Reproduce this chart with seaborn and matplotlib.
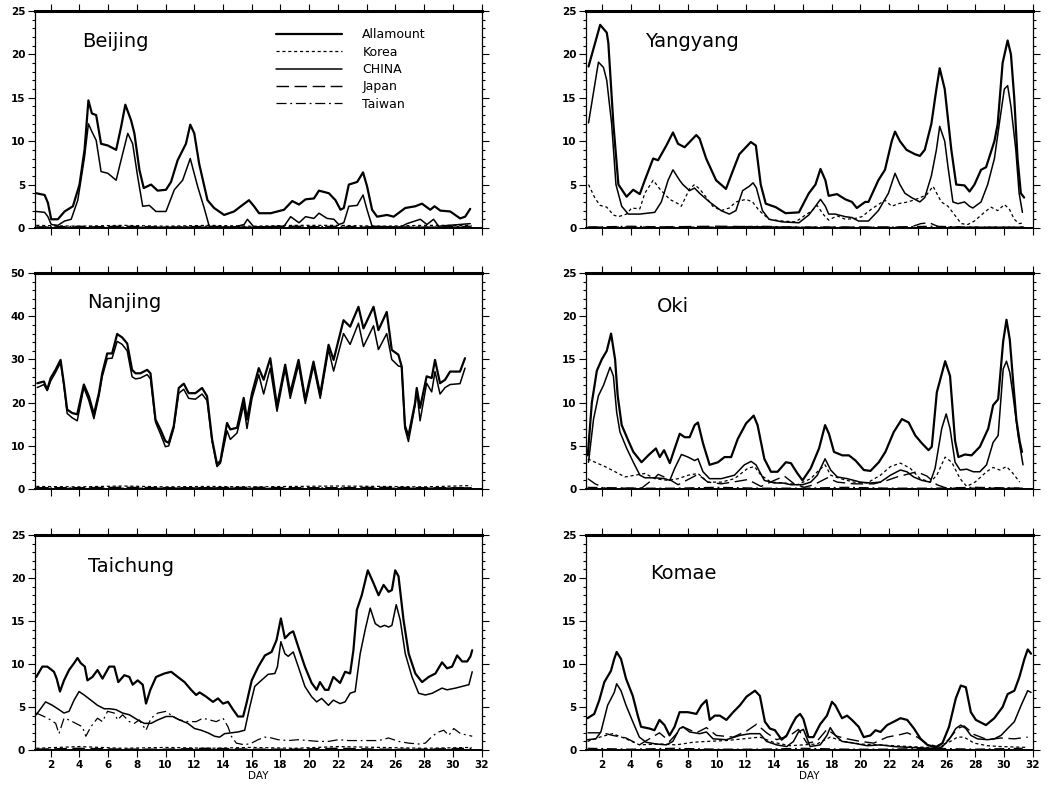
import numpy as np
import pandas as pd
import seaborn as sns
import matplotlib.pyplot as plt
from matplotlib.ticker import MultipleLocator

# ---------------- data (day, value) ----------------
flat_days = [1.0, 4.0, 7.0, 10.0, 13.0, 16.0, 19.0, 22.0, 25.0, 28.0, 31.3]

# Beijing
beijing_all_x = [1.0, 1.58, 1.81, 2.04, 2.5, 2.97, 3.55, 4.01, 4.36, 4.63, 4.87, 5.17, 5.51, 5.98, 6.56,
                 6.9, 7.2, 7.6, 7.83, 8.18, 8.48, 8.99, 9.45, 10.03, 10.38, 10.84, 11.42, 11.72, 12.0,
                 12.34, 12.92, 13.38, 14.08, 14.77, 15.24, 15.81, 16.16, 16.51, 17.32, 18.25, 18.82,
                 19.29, 19.75, 20.33, 20.68, 21.37, 21.83, 22.18, 22.41, 22.76, 23.34, 23.75, 24.03,
                 24.38, 24.73, 25.42, 25.88, 26.69, 27.39, 27.85, 28.43, 28.73, 29.13, 29.82, 30.51,
                 30.86, 31.21]
beijing_all_y = [4.0, 3.8, 2.9, 1.0, 1.0, 1.9, 2.5, 5.0, 9.0, 14.7, 13.2, 13.0, 9.7, 9.5, 9.0, 11.6,
                 14.2, 12.4, 10.9, 6.7, 4.6, 5.0, 4.3, 4.4, 5.3, 7.8, 9.7, 11.9, 10.9, 7.4, 3.2, 2.3,
                 1.5, 1.9, 2.5, 3.2, 2.5, 1.7, 1.7, 2.1, 3.1, 2.7, 3.3, 3.4, 4.3, 4.0, 3.2, 2.1, 2.3,
                 5.0, 5.3, 6.4, 4.8, 2.1, 1.3, 1.5, 1.3, 2.3, 2.5, 2.8, 2.1, 2.5, 2.0, 1.9, 1.1, 1.3, 2.2]
beijing_china_x = [1.0, 1.58, 1.81, 2.04, 2.5, 2.97, 3.43, 3.89, 4.36, 4.63, 4.87, 5.17, 5.51, 5.98,
                   6.56, 6.9, 7.37, 7.71, 8.06, 8.41, 8.87, 9.33, 10.03, 10.61, 11.19, 11.72, 12.23,
                   12.69, 13.04, 13.38, 14.77, 15.47, 15.7, 16.16, 18.25, 18.71, 19.29, 19.75, 20.33,
                   20.68, 21.25, 21.72, 22.06, 22.41, 22.76, 23.34, 23.75, 24.03, 24.38, 26.35, 26.81,
                   27.74, 28.2, 28.66, 29.01, 31.21]
beijing_china_y = [1.9, 1.8, 1.3, 0.4, 0.3, 0.8, 1.0, 3.2, 8.2, 12.0, 11.1, 10.1, 6.5, 6.3, 5.5, 7.8,
                   10.9, 9.7, 5.9, 2.5, 2.6, 1.9, 1.9, 4.4, 5.5, 8.0, 4.8, 2.3, 0.2, 0.1, 0.1, 0.4, 1.0,
                   0.1, 0.2, 1.3, 0.6, 1.3, 1.1, 1.7, 1.1, 1.0, 0.4, 0.6, 2.5, 2.6, 3.8, 2.1, 0.2, 0.1,
                   0.5, 1.0, 0.4, 1.0, 0.2, 0.5]
beijing_korea = [0.3, 0.2, 0.3, 0.2, 0.3, 0.2, 0.3, 0.3, 0.2, 0.3, 0.3]
beijing_japan = [0.1, 0.1, 0.2, 0.1, 0.1, 0.1, 0.2, 0.1, 0.1, 0.1, 0.1]
beijing_taiwan = [0.1, 0.2, 0.1, 0.1, 0.2, 0.1, 0.1, 0.2, 0.1, 0.1, 0.2]

# Yangyang
yangyang_all_x = [1.07, 1.88, 2.34, 2.45, 2.8, 3.15, 3.72, 4.18, 4.64, 4.99, 5.57, 5.91, 6.49, 6.95,
                  7.3, 7.76, 8.57, 8.8, 9.26, 9.95, 10.64, 11.1, 11.57, 12.37, 12.72, 13.06, 13.41,
                  14.1, 14.79, 15.72, 16.41, 16.87, 17.22, 17.56, 17.79, 18.37, 18.95, 19.41, 19.75,
                  20.33, 20.56, 21.25, 21.71, 22.18, 22.41, 22.75, 23.21, 23.79, 24.14, 24.48, 24.94,
                  25.29, 25.52, 25.87, 26.33, 26.67, 27.25, 27.6, 27.94, 28.4, 28.75, 29.33, 29.56,
                  29.9, 30.25, 30.48, 30.71, 30.94, 31.17, 31.4]
yangyang_all_y = [18.6, 23.4, 22.5, 21.3, 12.0, 5.0, 3.6, 4.4, 3.9, 5.5, 8.0, 7.8, 9.5, 11.0, 9.7,
                  9.3, 10.7, 10.3, 8.0, 5.5, 4.5, 6.5, 8.5, 9.9, 9.5, 5.0, 2.8, 2.4, 1.7, 1.8, 4.0,
                  5.0, 6.8, 5.5, 3.7, 3.9, 3.3, 3.0, 2.3, 3.0, 3.0, 5.5, 6.7, 10.0, 11.1, 10.0, 9.0,
                  8.5, 8.3, 9.0, 12.0, 16.0, 18.4, 16.0, 9.0, 5.0, 4.9, 4.2, 5.0, 6.7, 7.0, 10.0, 12.0,
                  19.0, 21.6, 20.0, 15.0, 8.0, 4.0, 3.5]
yangyang_china_x = [1.07, 1.76, 2.11, 2.34, 2.68, 2.98, 3.38, 3.84, 4.64, 5.68, 6.14, 6.61, 6.95, 7.41,
                    7.64, 8.1, 8.45, 8.8, 9.49, 10.3, 10.87, 11.33, 11.8, 12.26, 12.53, 12.76, 13.18,
                    13.64, 14.56, 15.72, 16.41, 16.87, 17.22, 17.56, 17.79, 18.25, 18.95, 19.41, 19.87,
                    20.56, 21.25, 21.95, 22.41, 22.75, 23.1, 23.56, 24.14, 24.48, 24.94, 25.29, 25.52,
                    25.87, 26.1, 26.44, 26.79, 27.25, 27.6, 27.83, 28.4, 28.86, 29.33, 29.67, 30.02,
                    30.25, 30.48, 30.82, 31.05, 31.28]
yangyang_china_y = [12.1, 19.1, 18.5, 17.0, 12.0, 5.0, 2.5, 1.6, 1.6, 1.8, 3.0, 5.5, 6.7, 5.5, 5.0,
                    4.3, 4.6, 4.0, 3.0, 2.0, 1.6, 2.0, 4.3, 4.8, 5.2, 4.6, 2.0, 1.0, 0.7, 0.6, 1.5, 2.5,
                    3.3, 2.5, 1.6, 1.6, 1.3, 1.2, 0.8, 0.8, 2.0, 4.0, 6.3, 5.0, 4.0, 3.5, 3.0, 3.5, 6.0,
                    9.0, 11.7, 10.0, 7.0, 3.0, 2.8, 3.0, 2.5, 2.3, 3.0, 5.0, 8.0, 12.0, 16.0, 16.4, 14.0,
                    9.0, 4.0, 1.8]
yangyang_korea_x = [1.07, 1.53, 1.88, 2.34, 2.8, 3.15, 3.72, 4.07, 4.64, 4.99, 5.57, 6.03, 6.72, 7.3,
                    7.53, 8.1, 8.45, 8.8, 9.14, 9.72, 10.3, 10.87, 11.33, 12.03, 12.49, 12.95, 13.64,
                    14.56, 15.49, 16.18, 16.64, 16.98, 17.45, 17.79, 18.37, 18.95, 19.64, 20.1, 20.79,
                    21.71, 22.18, 22.64, 23.33, 24.02, 24.6, 25.06, 25.63, 26.1, 26.56, 27.02, 27.48,
                    27.94, 28.63, 29.09, 29.56, 30.02, 30.36, 30.71, 31.05, 31.4]
yangyang_korea_y = [5.0, 3.4, 2.6, 2.4, 1.5, 1.3, 1.6, 2.3, 2.2, 4.0, 5.5, 4.5, 3.3, 2.8, 2.5, 4.5,
                    5.0, 4.5, 3.8, 2.5, 2.0, 2.3, 3.0, 3.3, 3.0, 2.0, 1.0, 0.8, 0.7, 1.5, 2.0, 2.6, 1.5,
                    0.9, 1.4, 1.0, 1.1, 1.3, 2.2, 3.2, 2.5, 2.8, 3.0, 3.4, 3.8, 4.8, 3.0, 2.5, 1.5, 0.5,
                    0.4, 0.8, 1.8, 2.4, 2.0, 2.7, 2.2, 1.0, 0.5, 0.6]
yangyang_japan_x = [1.07, 5.0, 10.0, 15.0, 20.0, 23.5, 24.2, 24.8, 25.5, 28.0, 31.4]
yangyang_japan_y = [0.1, 0.1, 0.2, 0.1, 0.1, 0.1, 0.5, 0.6, 0.1, 0.1, 0.1]
yangyang_taiwan = [0.1, 0.2, 0.1, 0.1, 0.2, 0.1, 0.1, 0.1, 0.2, 0.1, 0.1]

# Nanjing
nanjing_x = [1.07, 1.53, 1.76, 2.0, 2.34, 2.69, 2.92, 3.15, 3.5, 3.85, 4.31, 4.66, 5.01, 5.36, 5.59,
             5.94, 6.28, 6.63, 6.98, 7.33, 7.67, 7.91, 8.25, 8.72, 8.95, 9.3, 9.64, 9.99, 10.22,
             10.57, 10.92, 11.27, 11.61, 12.08, 12.54, 12.89, 13.24, 13.58, 13.82, 14.28, 14.51,
             14.98, 15.44, 15.67, 16.02, 16.49, 16.83, 17.29, 17.76, 18.33, 18.68, 19.26, 19.73,
             20.3, 20.77, 21.35, 21.7, 22.39, 22.85, 23.43, 23.78, 24.48, 24.82, 25.4, 25.75, 26.21,
             26.44, 26.67, 26.91, 27.37, 27.49, 27.72, 28.18, 28.53, 28.76, 29.11, 29.46, 29.81,
             30.5, 30.85]
nanjing_all = [24.5, 24.9, 23.0, 25.7, 27.6, 29.9, 24.5, 18.4, 17.6, 17.3, 24.2, 21.5, 17.3, 22.2,
               26.8, 31.4, 31.4, 35.9, 35.1, 33.7, 27.6, 26.8, 26.8, 27.6, 26.8, 16.1, 13.8, 11.1,
               10.7, 14.6, 23.4, 24.4, 22.2, 22.2, 23.4, 21.5, 11.5, 5.8, 6.5, 15.3, 13.8, 14.2, 21.1,
               16.1, 22.2, 28.0, 25.3, 30.3, 19.2, 28.8, 22.2, 29.9, 20.7, 29.5, 21.9, 33.4, 29.9,
               39.1, 37.6, 42.2, 37.2, 42.2, 36.8, 41.0, 32.2, 31.1, 28.4, 14.6, 12.3, 19.9, 23.4,
               18.8, 26.1, 25.7, 29.9, 24.5, 25.3, 27.2, 27.2, 30.3]
nanjing_china = [23.5, 24.2, 22.8, 25.0, 27.0, 29.3, 24.0, 17.5, 16.5, 15.8, 23.5, 20.5, 16.3, 21.5,
                 26.0, 30.2, 30.3, 34.2, 33.5, 32.0, 26.0, 25.5, 25.7, 26.5, 25.5, 15.5, 12.8, 9.8,
                 10.0, 14.0, 22.2, 23.1, 21.0, 20.8, 22.0, 20.5, 11.0, 5.2, 6.0, 13.5, 11.5, 13.0,
                 19.5, 14.0, 21.0, 26.5, 22.0, 28.0, 18.0, 27.8, 21.0, 28.8, 19.8, 28.5, 21.0, 32.3,
                 27.3, 36.0, 33.5, 38.4, 33.0, 37.8, 32.3, 36.0, 30.0, 28.5, 28.3, 14.0, 11.0, 19.3,
                 22.8, 15.8, 24.5, 22.5, 27.2, 22.0, 23.5, 24.2, 24.4, 28.0]
nanjing_korea = [0.6, 0.5, 0.7, 0.5, 0.6, 0.5, 0.6, 0.7, 0.6, 0.5, 0.8]
nanjing_japan = [0.3, 0.3, 0.4, 0.3, 0.3, 0.4, 0.3, 0.3, 0.4, 0.3, 0.3]
nanjing_taiwan = [0.2, 0.3, 0.2, 0.2, 0.3, 0.2, 0.2, 0.3, 0.2, 0.2, 0.3]

# Oki
oki_all_x = [1.02, 1.3, 1.65, 1.99, 2.34, 2.64, 2.92, 3.1, 3.38, 3.84, 4.19, 4.76, 5.23, 5.76, 6.03,
             6.33, 6.73, 7.07, 7.42, 7.77, 8.11, 8.46, 8.69, 9.04, 9.5, 10.08, 10.54, 11.0, 11.46,
             12.04, 12.57, 12.84, 13.31, 13.77, 14.23, 14.81, 15.16, 15.62, 15.97, 16.54, 17.12,
             17.54, 17.81, 18.16, 18.74, 19.2, 19.66, 20.24, 20.7, 21.28, 21.74, 22.32, 22.89, 23.36,
             23.82, 24.28, 24.74, 24.97, 25.32, 25.9, 26.24, 26.59, 26.82, 27.28, 27.74, 28.32, 28.9,
             29.24, 29.59, 29.94, 30.17, 30.4, 30.63, 30.86, 31.09, 31.25]
oki_all_y = [3.9, 10.0, 13.7, 15.0, 16.0, 18.0, 15.0, 10.8, 7.4, 5.6, 4.3, 3.1, 3.9, 4.7, 3.7, 4.5,
             3.0, 4.7, 6.4, 6.0, 6.0, 7.4, 7.7, 5.3, 2.8, 3.1, 3.7, 3.7, 5.8, 7.6, 8.5, 7.4, 3.5, 2.0,
             2.0, 3.1, 3.0, 1.8, 1.0, 2.4, 4.7, 7.4, 6.4, 4.3, 3.9, 3.9, 3.3, 2.2, 2.1, 3.1, 4.3, 6.6,
             8.1, 7.7, 6.2, 5.3, 4.5, 4.9, 11.2, 14.8, 13.1, 5.6, 3.7, 4.0, 3.9, 4.9, 7.0, 9.7, 10.4,
             17.1, 19.6, 17.3, 12.5, 8.0, 5.5, 4.3]
oki_china_x = [1.07, 1.42, 1.76, 2.11, 2.57, 2.8, 3.03, 3.26, 3.73, 4.19, 4.65, 5.0, 5.69, 6.38, 6.73,
               7.07, 7.54, 8.0, 8.46, 8.69, 9.04, 9.5, 10.31, 10.77, 11.23, 11.92, 12.39, 12.73,
               13.31, 14.01, 14.58, 15.16, 15.97, 16.54, 17.0, 17.54, 17.93, 18.39, 19.08, 20.01,
               20.7, 21.39, 22.09, 22.78, 23.24, 23.7, 24.28, 24.86, 25.2, 25.66, 25.97, 26.24, 26.59,
               26.94, 27.4, 27.86, 28.32, 28.78, 29.24, 29.59, 29.94, 30.17, 30.4, 30.63, 30.98, 31.32]
oki_china_y = [3.1, 8.1, 10.8, 12.0, 14.1, 13.1, 8.9, 6.6, 4.7, 3.1, 1.6, 1.3, 1.3, 1.2, 1.0, 2.4,
               4.0, 3.7, 3.3, 3.5, 2.0, 1.2, 1.2, 1.4, 1.6, 2.8, 3.2, 2.8, 1.0, 0.7, 0.7, 0.5, 0.5, 0.8,
               1.6, 3.5, 2.2, 1.4, 1.2, 0.8, 0.7, 0.8, 1.6, 2.2, 2.0, 1.4, 1.0, 0.8, 2.4, 7.0, 8.7, 7.0,
               3.1, 2.2, 2.3, 2.0, 2.0, 2.8, 5.4, 6.2, 13.9, 14.8, 13.5, 10.8, 6.2, 2.8]
oki_korea_x = [1.02, 1.53, 2.22, 2.92, 3.61, 4.3, 5.0, 5.69, 6.61, 7.31, 8.0, 8.69, 9.38, 10.31, 11.23,
               12.16, 12.62, 13.08, 13.77, 14.7, 15.62, 16.54, 17.0, 17.54, 17.93, 18.62, 19.55,
               20.47, 21.39, 22.09, 22.78, 23.47, 24.16, 24.86, 25.32, 25.9, 26.36, 26.94, 27.4,
               27.98, 28.78, 29.24, 29.7, 30.17, 30.63, 31.09]
oki_korea_y = [3.5, 3.1, 2.6, 2.0, 1.4, 1.6, 1.8, 1.2, 1.0, 1.2, 1.6, 1.8, 0.8, 0.8, 1.2, 2.4, 2.6,
               1.6, 0.8, 0.7, 0.5, 1.2, 2.0, 2.8, 1.6, 1.2, 0.8, 0.7, 1.6, 2.6, 3.0, 2.4, 1.2, 0.8, 1.6,
               3.7, 3.1, 1.2, 0.3, 0.8, 2.0, 2.5, 2.2, 2.6, 1.8, 0.8]
oki_japan_x = [1.02, 1.53, 2.22, 4.76, 5.69, 5.92, 6.61, 7.31, 8.69, 9.38, 10.31, 11.46, 12.16, 13.08,
               14.0, 14.7, 15.39, 16.08, 16.77, 17.7, 18.39, 19.55, 20.93, 21.86, 22.55, 23.24, 23.93,
               24.63, 25.32, 26.01, 31.32]
oki_japan_y = [1.2, 0.6, 0.1, 0.1, 1.3, 1.7, 1.2, 0.5, 1.7, 0.8, 0.6, 0.9, 1.1, 0.3, 1.0, 1.5, 0.6,
               0.2, 0.5, 1.3, 0.8, 0.6, 0.6, 1.0, 1.4, 1.7, 2.0, 1.5, 0.5, 0.1, 0.1]
oki_taiwan = [0.2, 0.1, 0.1, 0.2, 0.1, 0.1, 0.2, 0.1, 0.1, 0.2, 0.1]

# Taichung
taichung_all_x = [1.0, 1.42, 1.77, 2.23, 2.42, 2.65, 2.93, 3.28, 3.63, 3.87, 4.1, 4.38, 4.56, 4.91,
                  5.26, 5.61, 6.08, 6.43, 6.71, 7.13, 7.48, 7.71, 8.06, 8.41, 8.64, 8.94, 9.34, 9.92,
                  10.39, 10.85, 11.32, 11.78, 12.13, 12.37, 12.83, 13.3, 13.65, 14.0, 14.35, 14.7,
                  15.04, 15.4, 15.63, 16.0, 16.46, 16.92, 17.38, 17.73, 18.03, 18.31, 18.66, 18.89,
                  19.24, 19.7, 20.17, 20.52, 20.75, 21.1, 21.34, 21.68, 22.15, 22.5, 22.85, 23.08,
                  23.32, 23.66, 24.08, 24.48, 24.83, 25.18, 25.53, 25.76, 25.99, 26.22, 26.57, 26.93,
                  27.39, 27.86, 28.32, 28.79, 29.25, 29.6, 29.95, 30.3, 30.65, 31.0, 31.23, 31.35]
taichung_all_y = [8.5, 9.7, 9.7, 9.1, 8.3, 6.8, 8.1, 9.3, 10.1, 10.7, 10.1, 9.7, 8.1, 8.5, 9.3, 8.3,
                  9.7, 9.7, 7.9, 8.7, 8.5, 7.6, 8.1, 7.6, 5.4, 7.0, 8.5, 8.9, 9.1, 8.5, 7.9, 7.0, 6.4,
                  6.7, 6.2, 5.6, 6.0, 5.4, 5.6, 4.7, 3.9, 3.9, 5.4, 8.1, 9.7, 11.0, 11.4, 12.8, 15.3,
                  13.0, 13.6, 13.8, 12.0, 9.7, 7.8, 7.0, 7.9, 7.0, 7.0, 8.5, 7.8, 9.1, 8.9, 11.6, 16.3,
                  18.0, 20.9, 19.4, 18.0, 19.2, 18.4, 18.6, 20.9, 20.2, 15.1, 11.2, 8.9, 7.9, 8.5, 8.9,
                  10.2, 9.5, 9.7, 11.0, 10.3, 10.3, 10.9, 11.6]
taichung_china_x = [1.0, 1.3, 1.65, 2.12, 2.58, 2.93, 3.28, 3.63, 3.98, 4.33, 4.8, 5.26, 5.73, 6.08,
                    6.54, 7.01, 7.48, 8.06, 8.52, 8.99, 9.46, 10.04, 10.5, 10.97, 11.55, 12.02, 12.48,
                    12.95, 13.42, 13.77, 14.11, 14.58, 15.04, 15.51, 15.86, 16.21, 16.67, 17.14, 17.61,
                    17.79, 18.03, 18.31, 18.54, 18.89, 19.24, 19.7, 20.17, 20.52, 20.87, 21.34, 21.68,
                    22.15, 22.5, 22.85, 23.2, 23.55, 23.9, 24.25, 24.6, 24.95, 25.25, 25.53, 25.76,
                    26.06, 26.34, 26.69, 27.16, 27.62, 28.09, 28.56, 29.02, 29.25, 29.6, 30.19, 30.65,
                    31.12, 31.35]
taichung_china_y = [4.1, 4.8, 5.6, 5.2, 4.7, 4.3, 4.5, 5.8, 6.8, 6.4, 5.8, 5.2, 4.8, 4.8, 4.7, 4.3,
                    4.1, 3.5, 3.1, 3.1, 3.5, 3.9, 3.9, 3.5, 3.1, 2.5, 2.3, 2.0, 1.6, 1.5, 1.9, 2.0, 2.1,
                    2.3, 5.0, 7.4, 8.1, 8.8, 8.9, 9.7, 12.6, 11.2, 10.9, 11.4, 9.7, 7.4, 6.2, 5.6, 6.0,
                    5.2, 5.8, 5.4, 5.6, 6.6, 6.8, 11.2, 14.0, 16.5, 14.7, 14.3, 14.5, 14.3, 14.5, 16.9,
                    15.1, 11.2, 8.5, 6.6, 6.4, 6.6, 7.0, 7.2, 7.0, 7.2, 7.4, 7.6, 9.1]
taichung_taiwan_x = [1.0, 1.54, 2.0, 2.35, 2.58, 2.93, 3.28, 3.75, 4.21, 4.45, 4.8, 5.26, 5.61, 5.96,
                     6.43, 6.66, 7.01, 7.48, 7.83, 8.17, 8.64, 8.99, 9.46, 10.04, 10.5, 10.97, 11.55,
                     12.13, 12.6, 13.07, 13.53, 14.0, 14.35, 14.58, 14.93, 15.51, 15.98, 16.44, 16.91,
                     17.38, 17.84, 18.54, 19.24, 19.94, 20.64, 21.34, 22.03, 22.73, 23.43, 24.13, 24.83,
                     25.53, 26.23, 26.93, 27.62, 28.09, 28.56, 29.02, 29.37, 29.72, 30.07, 30.54, 31.12,
                     31.35]
taichung_taiwan_y = [4.3, 3.9, 3.5, 3.1, 1.9, 3.7, 3.5, 3.1, 2.7, 1.6, 2.7, 3.7, 3.3, 4.5, 4.3, 3.5,
                     4.1, 3.3, 3.1, 3.5, 2.3, 3.7, 4.3, 4.5, 3.9, 3.5, 3.3, 3.3, 3.7, 3.5, 3.3, 3.7, 2.7,
                     1.6, 0.8, 0.6, 0.8, 1.2, 1.5, 1.4, 1.2, 1.1, 1.2, 1.1, 1.0, 1.0, 1.2, 1.1, 1.1, 1.1,
                     1.1, 1.4, 1.0, 0.8, 0.7, 0.8, 1.6, 2.1, 2.3, 1.7, 2.5, 1.9, 1.7, 1.6]
taichung_korea = [0.2, 0.4, 0.2, 0.3, 0.2, 0.3, 0.2, 0.4, 0.3, 0.2, 0.3]
taichung_japan = [0.1, 0.2, 0.1, 0.1, 0.2, 0.1, 0.1, 0.2, 0.1, 0.1, 0.2]

# Komae
komae_all_x = [1.0, 1.47, 1.82, 2.17, 2.63, 2.86, 3.03, 3.33, 3.68, 4.15, 4.5, 4.73, 5.31, 5.66, 6.01,
               6.36, 6.71, 7.06, 7.41, 7.99, 8.58, 8.93, 9.28, 9.51, 9.86, 10.21, 10.67, 11.14, 11.61,
               12.07, 12.66, 13.0, 13.35, 13.7, 14.05, 14.52, 14.87, 15.22, 15.52, 15.8, 16.03,
               16.38, 16.73, 17.2, 17.67, 18.02, 18.25, 18.72, 19.07, 19.41, 19.88, 20.23, 20.7,
               21.05, 21.4, 21.86, 22.33, 22.79, 23.26, 23.73, 24.19, 24.66, 25.24, 25.71, 26.17,
               26.64, 26.99, 27.34, 27.69, 28.04, 28.74, 29.32, 29.9, 30.25, 30.72, 31.07, 31.42,
               31.65, 31.88]
komae_all_y = [3.7, 4.2, 5.8, 7.9, 9.2, 10.6, 11.4, 10.6, 8.3, 6.3, 4.0, 2.7, 2.5, 2.3, 3.5, 2.9, 1.7,
               2.7, 4.4, 4.4, 4.2, 5.2, 5.8, 3.5, 4.0, 4.0, 3.5, 4.4, 5.2, 6.2, 6.9, 6.3, 3.3, 2.5, 2.3,
               1.2, 1.7, 2.9, 3.8, 4.2, 3.6, 1.5, 1.5, 3.0, 4.0, 5.6, 5.2, 3.7, 4.0, 3.5, 2.7, 1.5,
               1.7, 2.3, 2.1, 2.9, 3.3, 3.7, 3.5, 2.5, 1.3, 0.6, 0.3, 0.8, 2.7, 6.0, 7.5, 7.3, 4.4,
               3.5, 2.9, 3.7, 5.0, 6.5, 6.9, 8.5, 10.6, 11.7, 11.2]
komae_china_x = [1.0, 1.58, 1.93, 2.4, 2.86, 3.03, 3.33, 3.68, 4.15, 4.61, 5.08, 5.78, 6.48, 6.94,
                 7.41, 7.64, 8.11, 8.81, 9.28, 9.74, 10.67, 11.61, 12.31, 13.0, 13.47, 14.17, 14.87,
                 15.34, 15.69, 16.03, 16.5, 17.2, 17.67, 17.9, 18.25, 18.72, 19.53, 20.46, 21.4,
                 22.33, 23.49, 24.66, 25.59, 26.17, 26.64, 26.99, 27.34, 27.69, 28.15, 28.85, 29.32,
                 29.79, 30.25, 30.72, 31.19, 31.65, 31.88]
komae_china_y = [1.2, 1.3, 2.1, 5.2, 6.7, 7.7, 6.9, 5.2, 3.3, 1.5, 0.9, 0.7, 0.6, 1.0, 2.5, 2.7, 2.1,
                 1.9, 2.1, 1.3, 1.2, 1.7, 1.9, 1.9, 1.0, 0.6, 0.4, 1.0, 2.1, 2.4, 0.4, 0.6, 1.7, 2.6,
                 1.7, 1.0, 0.8, 0.5, 0.6, 0.4, 0.3, 0.2, 0.2, 1.2, 2.5, 2.9, 2.5, 1.7, 1.3, 1.2, 1.3,
                 1.7, 2.5, 3.3, 5.2, 6.9, 6.7]
komae_japan_x = [1.0, 2.05, 2.75, 3.68, 4.61, 5.31, 6.01, 6.71, 7.64, 8.58, 9.28, 9.97, 11.14, 12.07,
                 12.77, 13.47, 14.17, 15.1, 15.69, 16.27, 16.97, 17.67, 18.37, 19.07, 20.0, 20.93,
                 21.86, 22.79, 23.26, 23.96, 24.66, 25.59, 26.29, 26.76, 27.22, 27.92, 28.85, 29.79,
                 30.72, 31.65]
komae_japan_y = [2.0, 2.0, 1.7, 1.4, 0.6, 1.3, 2.0, 1.0, 2.7, 2.0, 2.6, 1.7, 1.5, 2.2, 3.0, 2.0, 1.2,
                 1.7, 2.4, 0.8, 1.0, 2.4, 1.6, 1.3, 1.0, 0.8, 1.5, 1.8, 2.0, 1.5, 0.7, 0.3, 1.5, 2.5,
                 2.8, 1.8, 1.2, 1.4, 1.3, 1.5]
komae_korea_x = [1.0, 2.05, 2.75, 3.68, 4.61, 6.01, 7.18, 8.34, 9.28, 10.67, 11.84, 13.0, 13.94, 15.1,
                 16.03, 16.97, 17.9, 18.83, 20.0, 22.33, 24.66, 26.06, 26.76, 27.22, 27.92, 28.85,
                 29.79, 31.65]
komae_korea_y = [1.0, 1.6, 1.9, 1.3, 0.6, 0.7, 0.6, 0.9, 1.0, 1.1, 1.3, 1.5, 0.9, 0.5, 0.6, 0.7, 1.5,
                 1.0, 0.7, 0.5, 0.3, 0.8, 1.5, 1.5, 0.8, 0.5, 0.4, 0.3]
komae_taiwan = [0.2, 0.1, 0.2, 0.1, 0.1, 0.2, 0.1, 0.1, 0.2, 0.1, 0.2]

# ---------------- styling ----------------
sns.set_theme(style="ticks")
plt.rcParams['font.family'] = ['DejaVu Sans']
plt.rcParams['text.color'] = 'black'
plt.rcParams['axes.labelcolor'] = 'black'
plt.rcParams['xtick.color'] = 'black'
plt.rcParams['ytick.color'] = 'black'

STYLES = {
    'Allamount': dict(lw=1.6, ls='-'),
    'Korea': dict(lw=0.9, ls=(0, (2.5, 2.2))),
    'CHINA': dict(lw=1.1, ls='-'),
    'Japan': dict(lw=1.0, ls=(0, (9, 4))),
    'Taiwan': dict(lw=0.9, ls=(0, (8, 3, 1.5, 3))),
}


def line(ax, name, x, y):
    sns.lineplot(x=x, y=y, ax=ax, color='black', estimator=None, sort=False,
                 linewidth=STYLES[name]['lw'], legend=False)
    ln = ax.lines[-1]
    ln.set_linestyle(STYLES[name]['ls'])
    return ln


def frame(ax, title, tx, ty, ymax, ystep, yminor, bottom_row):
    ax.set_xlim(0.9, 32)
    ax.set_ylim(0, ymax)
    ax.set_xticks(range(2, 33, 2))
    ax.yaxis.set_major_locator(MultipleLocator(ystep))
    ax.yaxis.set_minor_locator(MultipleLocator(yminor))
    ax.tick_params(which='both', direction='out', top=True, right=True, width=0.8,
                   labelsize=7.5, pad=2, colors='black')
    ax.tick_params(which='major', length=5)
    ax.tick_params(which='minor', length=2.5)
    for lab in ax.get_yticklabels():
        lab.set_fontweight('bold')
    if bottom_row:
        for lab in ax.get_xticklabels():
            lab.set_fontweight('bold')
        ax.set_xlabel('DAY', fontsize=7.5, labelpad=1, color='black')
    else:
        ax.set_xticklabels([])
        ax.set_xlabel('')
    ax.set_ylabel('')
    for s in ax.spines.values():
        s.set_linewidth(0.9)
        s.set_color('black')
    ax.spines['top'].set_linewidth(2.2)
    ax.spines['bottom'].set_linewidth(1.4)
    ax.text(tx, ty, title, transform=ax.transAxes, fontsize=14, va='center', ha='left',
            color='black')


fig = plt.figure(figsize=(10.56, 7.88), dpi=100)
left_x, right_x, width = 0.033, 0.555, 0.423
rows = [(0.7107, 0.2754), (0.3794, 0.2740), (0.0482, 0.2728)]

ax_bj = fig.add_axes([left_x, rows[0][0], width, rows[0][1]])
ax_yy = fig.add_axes([right_x, rows[0][0], width, rows[0][1]])
ax_nj = fig.add_axes([left_x, rows[1][0], width, rows[1][1]])
ax_ok = fig.add_axes([right_x, rows[1][0], width, rows[1][1]])
ax_tc = fig.add_axes([left_x, rows[2][0], width, rows[2][1]])
ax_km = fig.add_axes([right_x, rows[2][0], width, rows[2][1]])

# Beijing
h_all = line(ax_bj, 'Allamount', beijing_all_x, beijing_all_y)
h_kor = line(ax_bj, 'Korea', flat_days, beijing_korea)
h_chn = line(ax_bj, 'CHINA', beijing_china_x, beijing_china_y)
h_jpn = line(ax_bj, 'Japan', flat_days, beijing_japan)
h_twn = line(ax_bj, 'Taiwan', flat_days, beijing_taiwan)
frame(ax_bj, 'Beijing', 0.105, 0.86, 25, 5, 1, False)
ax_bj.legend(handles=[h_all, h_kor, h_chn, h_jpn, h_twn],
             labels=['Allamount', 'Korea', 'CHINA', 'Japan', 'Taiwan'], loc='upper left',
             bbox_to_anchor=(0.54, 0.92), frameon=False, fontsize=9, handlelength=5.3,
             handletextpad=1.6, labelspacing=0.35, borderaxespad=0, borderpad=0,
             labelcolor='black')

# Yangyang
line(ax_yy, 'Allamount', yangyang_all_x, yangyang_all_y)
line(ax_yy, 'Korea', yangyang_korea_x, yangyang_korea_y)
line(ax_yy, 'CHINA', yangyang_china_x, yangyang_china_y)
line(ax_yy, 'Japan', yangyang_japan_x, yangyang_japan_y)
line(ax_yy, 'Taiwan', flat_days, yangyang_taiwan)
frame(ax_yy, 'Yangyang', 0.132, 0.857, 25, 5, 1, False)

# Nanjing
line(ax_nj, 'Allamount', nanjing_x, nanjing_all)
line(ax_nj, 'Korea', flat_days, nanjing_korea)
line(ax_nj, 'CHINA', nanjing_x, nanjing_china)
line(ax_nj, 'Japan', flat_days, nanjing_japan)
line(ax_nj, 'Taiwan', flat_days, nanjing_taiwan)
frame(ax_nj, 'Nanjing', 0.117, 0.866, 50, 10, 2, False)

# Oki
line(ax_ok, 'Allamount', oki_all_x, oki_all_y)
line(ax_ok, 'Korea', oki_korea_x, oki_korea_y)
line(ax_ok, 'CHINA', oki_china_x, oki_china_y)
line(ax_ok, 'Japan', oki_japan_x, oki_japan_y)
line(ax_ok, 'Taiwan', flat_days, oki_taiwan)
frame(ax_ok, 'Oki', 0.159, 0.847, 25, 5, 1, False)

# Taichung
line(ax_tc, 'Allamount', taichung_all_x, taichung_all_y)
line(ax_tc, 'Korea', flat_days, taichung_korea)
line(ax_tc, 'CHINA', taichung_china_x, taichung_china_y)
line(ax_tc, 'Japan', flat_days, taichung_japan)
line(ax_tc, 'Taiwan', taichung_taiwan_x, taichung_taiwan_y)
frame(ax_tc, 'Taichung', 0.119, 0.856, 25, 5, 1, True)

# Komae
line(ax_km, 'Allamount', komae_all_x, komae_all_y)
line(ax_km, 'Korea', komae_korea_x, komae_korea_y)
line(ax_km, 'CHINA', komae_china_x, komae_china_y)
line(ax_km, 'Japan', komae_japan_x, komae_japan_y)
line(ax_km, 'Taiwan', flat_days, komae_taiwan)
frame(ax_km, 'Komae', 0.143, 0.823, 25, 5, 1, True)

fig.savefig('out.png', dpi=100)
